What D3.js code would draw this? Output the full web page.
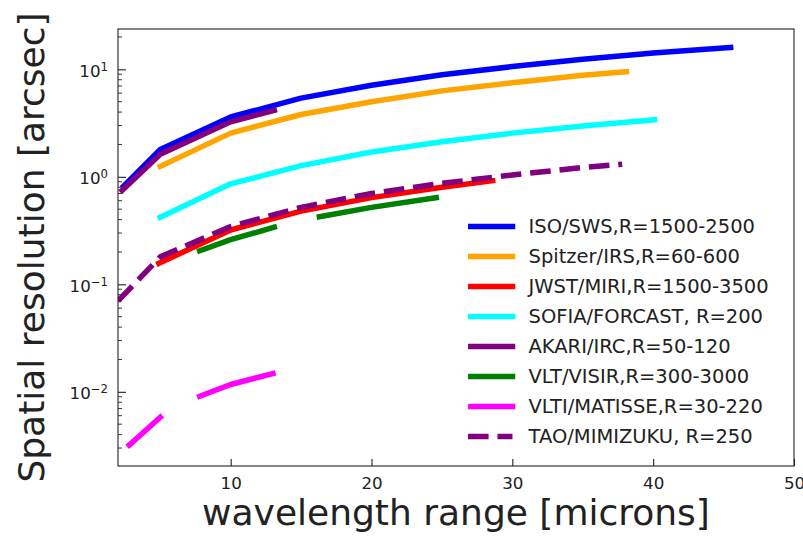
<!DOCTYPE html>
<html>
<head>
<meta charset="utf-8">
<script src="https://cdn.jsdelivr.net/npm/d3@7"></script>
<style>
  body { margin: 0; background: #fff; }
  svg { font-family: "DejaVu Sans", sans-serif; }
</style>
</head>
<body>
<svg id="chart"></svg>
<script>
// wavelength (microns) / spatial resolution (arcsec)
const isoWave = [2.4, 5, 10, 15, 20, 25, 30, 35, 40, 45.5];
const isoRes = [0.82, 1.8, 3.6, 5.4, 7.1, 8.9, 10.6, 12.4, 14.2, 16.0];

const spitzerWave = [5, 10, 15, 20, 25, 30, 35, 38.1];
const spitzerRes = [1.25, 2.55, 3.8, 5.0, 6.3, 7.5, 8.8, 9.5];

const jwstWave = [4.9, 10, 15, 20, 25, 28.6];
const jwstRes = [0.157, 0.32, 0.48, 0.64, 0.8, 0.92];

const sofiaWave = [5, 10, 15, 20, 25, 30, 35, 40.1];
const sofiaRes = [0.42, 0.86, 1.27, 1.7, 2.12, 2.55, 2.97, 3.4];

const akariWave = [2.3, 5, 10, 13.1];
const akariRes = [0.75, 1.62, 3.25, 4.15];

// null = gap between atmospheric windows
const visirWave = [7.8, 10, 13.1, 14.7, 16.3, 20, 24.6];
const visirRes = [0.205, 0.26, 0.34, null, 0.425, 0.52, 0.64];

const matisseWave = [2.8, 5.0, 6.4, 7.8, 10, 13.0];
const matisseRes = [0.0032, 0.0058, null, 0.0091, 0.0117, 0.0148];

const taoWave = [2, 5, 10, 15, 20, 25, 30, 35, 37.8];
const taoRes = [0.07, 0.18, 0.345, 0.52, 0.7, 0.87, 1.04, 1.22, 1.31];

const labels = [
  'ISO/SWS,R=1500-2500',
  'Spitzer/IRS,R=60-600',
  'JWST/MIRI,R=1500-3500',
  'SOFIA/FORCAST, R=200',
  'AKARI/IRC,R=50-120',
  'VLT/VISIR,R=300-3000',
  'VLTI/MATISSE,R=30-220',
  'TAO/MIMIZUKU, R=250'
];

const xTicks = [10, 20, 30, 40, 50];
const yTickExps = [-2, -1, 0, 1];

const colors = ['#0000ff', '#ffa500', '#ff0000', '#00ffff', '#800080', '#008000', '#ff00ff', '#800080'];
const dashed = [false, false, false, false, false, false, false, true];

const seriesData = [
  [isoWave, isoRes], [spitzerWave, spitzerRes], [jwstWave, jwstRes], [sofiaWave, sofiaRes],
  [akariWave, akariRes], [visirWave, visirRes], [matisseWave, matisseRes], [taoWave, taoRes]
].map(([w, r], i) => ({
  label: labels[i],
  values: w.map((x, j) => ({x: x, v: r[j]}))
}));

class ResolutionChart {
  constructor(_config, _data) {
    this.config = {
      parentElement: _config.parentElement,
      containerWidth: _config.containerWidth || 803,
      containerHeight: _config.containerHeight || 539,
      margin: _config.margin || {top: 29, right: 9, bottom: 73, left: 118},
      lineWidth: 5.5
    };
    this.data = _data;
    this.initVis();
  }

  initVis() {
    let vis = this;
    vis.width = vis.config.containerWidth - vis.config.margin.left - vis.config.margin.right;
    vis.height = vis.config.containerHeight - vis.config.margin.top - vis.config.margin.bottom;

    vis.xScale = d3.scaleLinear().domain([2, 50]).range([0, vis.width]);
    vis.yScale = d3.scaleLog().domain([Math.pow(10, -2.69), Math.pow(10, 1.375)]).range([vis.height, 0]);

    vis.svg = d3.select(vis.config.parentElement)
        .attr('width', vis.config.containerWidth)
        .attr('height', vis.config.containerHeight);

    vis.chart = vis.svg.append('g')
        .attr('transform', `translate(${vis.config.margin.left},${vis.config.margin.top})`);

    vis.svg.append('defs').append('clipPath').attr('id', 'plot-clip')
      .append('rect').attr('width', vis.width).attr('height', vis.height);

    vis.renderVis();
  }

  renderVis() {
    let vis = this;

    // x axis, ticks pointing inward
    const xAxis = d3.axisBottom(vis.xScale)
        .tickValues(xTicks)
        .tickSizeInner(-7)
        .tickSizeOuter(0)
        .tickPadding(11)
        .tickFormat(d3.format('d'));
    const xg = vis.chart.append('g')
        .attr('transform', `translate(0,${vis.height})`)
        .call(xAxis);
    xg.select('.domain').remove();
    xg.selectAll('text').attr('font-size', 16.7).attr('fill', '#222').style('font-family', 'DejaVu Sans');
    xg.selectAll('line').attr('stroke', '#222').attr('stroke-width', 1.1);

    // minor log ticks
    const minor = [];
    yTickExps.concat([-3]).forEach(e => {
      for (let k = 2; k <= 9; k++) minor.push(k * Math.pow(10, e));
    });
    const yDom = vis.yScale.domain();
    vis.chart.append('g').selectAll('line')
      .data(minor.filter(d => d >= yDom[0] && d <= yDom[1]))
      .join('line')
        .attr('x1', 0).attr('x2', 4)
        .attr('y1', d => vis.yScale(d)).attr('y2', d => vis.yScale(d))
        .attr('stroke', '#222').attr('stroke-width', 0.9);

    // major y ticks with 10^n labels
    const yAxis = d3.axisLeft(vis.yScale)
        .tickValues(yTickExps.map(e => Math.pow(10, e)))
        .tickSizeInner(-8)
        .tickSizeOuter(0)
        .tickPadding(10)
        .tickFormat(() => '');
    const yg = vis.chart.append('g').call(yAxis);
    yg.select('.domain').remove();
    yg.selectAll('line').attr('stroke', '#222').attr('stroke-width', 1.1);
    yg.selectAll('text').each(function(d) {
      const e = Math.round(Math.log10(d));
      const t = d3.select(this)
          .attr('dy', null)
          .attr('y', 7)
          .attr('font-size', 16.7)
          .attr('fill', '#222')
          .style('font-family', 'DejaVu Sans');
      t.append('tspan').text('10');
      t.append('tspan').attr('font-size', 11.7).attr('dy', -6)
        .text(e < 0 ? '\u2212' + Math.abs(e) : String(e));
    });

    // series
    const line = d3.line()
        .defined(d => d.v != null)
        .x(d => vis.xScale(d.x))
        .y(d => vis.yScale(d.v));

    vis.chart.append('g').attr('clip-path', 'url(#plot-clip)')
      .selectAll('.series')
      .data(vis.data)
      .join('path')
        .attr('class', 'series')
        .attr('d', d => line(d.values))
        .attr('fill', 'none')
        .attr('stroke', (d, i) => colors[i])
        .attr('stroke-width', vis.config.lineWidth)
        .attr('stroke-linecap', (d, i) => dashed[i] ? 'butt' : 'square')
        .attr('stroke-linejoin', 'round')
        .attr('stroke-dasharray', (d, i) => dashed[i] ? '20.6,8.9' : null);

    // frame
    vis.chart.append('rect')
        .attr('width', vis.width).attr('height', vis.height)
        .attr('fill', 'none').attr('stroke', '#222').attr('stroke-width', 1.1);

    // legend
    const legend = vis.svg.append('g').attr('transform', 'translate(468,226.5)');
    const rows = legend.selectAll('g')
      .data(vis.data)
      .join('g')
        .attr('transform', (d, i) => `translate(0,${i * 30})`);
    rows.append('line')
        .attr('x1', (d, i) => dashed[i] ? 0 : 2.8)
        .attr('x2', (d, i) => dashed[i] ? 44.5 : 44.5)
        .attr('stroke', (d, i) => colors[i])
        .attr('stroke-width', vis.config.lineWidth)
        .attr('stroke-linecap', (d, i) => dashed[i] ? 'butt' : 'square')
        .attr('stroke-dasharray', (d, i) => dashed[i] ? '20.6,8.9' : null);
    rows.append('text')
        .attr('x', 60.5)
        .attr('y', 6.8)
        .attr('font-size', 19.5)
        .attr('fill', '#222')
        .text(d => d.label);

    // axis titles
    vis.svg.append('text')
        .attr('transform', `translate(43.5,${vis.config.margin.top + vis.height / 2}) rotate(-90)`)
        .attr('text-anchor', 'middle')
        .attr('font-size', 36)
        .attr('fill', '#222')
        .text('Spatial resolution [arcsec]');

    vis.svg.append('text')
        .attr('x', vis.config.margin.left + vis.width / 2)
        .attr('y', 525)
        .attr('text-anchor', 'middle')
        .attr('font-size', 36)
        .attr('fill', '#222')
        .text('wavelength range [microns]');
  }
}

new ResolutionChart({parentElement: '#chart'}, seriesData);
</script>
</body>
</html>
